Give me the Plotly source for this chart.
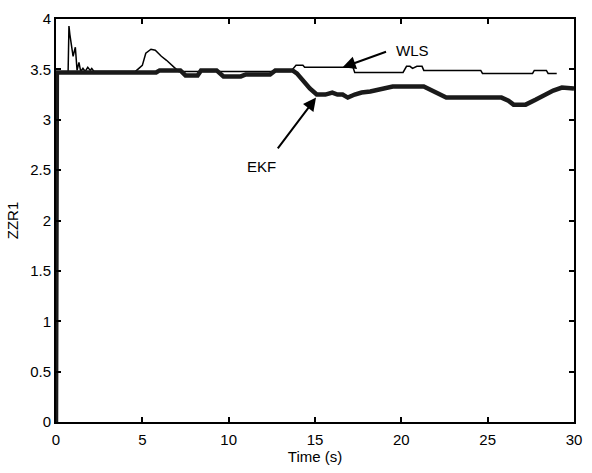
import plotly.graph_objects as go

# EKF estimate (thick line)
ekf_t = [0, 0.05, 0.5, 5.8, 6.0, 7.2, 7.5, 8.2, 8.4, 9.3, 9.7, 10.7, 11.0, 12.4, 12.7, 13.7,
         13.95, 14.3, 14.7, 15.1, 15.6, 16.0, 16.3, 16.6, 16.9, 17.3, 17.7, 18.2, 19.0, 19.5,
         21.3, 21.8, 22.6, 25.8, 26.2, 26.5, 27.2, 27.8, 28.3, 28.8, 29.3, 30]
ekf_v = [0, 3.47, 3.47, 3.47, 3.49, 3.49, 3.44, 3.44, 3.49, 3.49, 3.43, 3.43, 3.45, 3.45, 3.49, 3.49,
         3.46, 3.39, 3.31, 3.25, 3.25, 3.27, 3.25, 3.25, 3.22, 3.25, 3.27, 3.28, 3.31, 3.33,
         3.33, 3.29, 3.22, 3.22, 3.19, 3.15, 3.15, 3.20, 3.25, 3.29, 3.32, 3.31]

# WLS estimate (thin line)
wls_t = [0, 0.05, 0.7, 0.75, 0.8, 0.99, 1.12, 1.22, 1.33, 1.43, 1.56, 1.69, 1.84, 1.98, 2.07, 2.2,
         4.6, 5.0, 5.2, 5.5, 5.75, 6.1, 6.4, 6.7, 6.9, 7.1, 13.6, 13.9, 14.3, 14.4, 17.2, 17.3,
         20.1, 20.3, 20.5, 20.65, 20.9, 21.2, 21.3, 24.6, 24.7, 27.6, 27.7, 28.4, 28.5, 29.0]
wls_v = [0, 3.47, 3.47, 3.93, 3.85, 3.63, 3.72, 3.49, 3.57, 3.48, 3.51, 3.48, 3.52, 3.49, 3.51, 3.48,
         3.48, 3.54, 3.66, 3.70, 3.69, 3.63, 3.59, 3.54, 3.51, 3.48, 3.48, 3.54, 3.54, 3.52, 3.52, 3.47,
         3.47, 3.53, 3.53, 3.51, 3.53, 3.53, 3.49, 3.49, 3.46, 3.46, 3.49, 3.49, 3.46, 3.46]

x_ticks = [0, 5, 10, 15, 20, 25, 30]
y_ticks = [0, 0.5, 1, 1.5, 2, 2.5, 3, 3.5, 4]
y_tick_text = ["0", "0.5", "1", "1.5", "2", "2.5", "3", "3.5", "4"]

# annotation anchors: (label x, label y, arrow tail x, tail y, head x, head y)
wls_note = (20.65, 3.69, 19.2, 3.68, 16.6, 3.52)
ekf_note = (11.9, 2.54, 12.78, 2.70, 15.06, 3.22)

FONT = "Liberation Sans, Arial, sans-serif"

fig = go.Figure()
fig.add_trace(go.Scatter(x=wls_t, y=wls_v, mode="lines", name="WLS",
                         line=dict(color="black", width=1.5)))
fig.add_trace(go.Scatter(x=ekf_t, y=ekf_v, mode="lines", name="EKF",
                         line=dict(color="#1a1a1a", width=4.5)))

for lx, ly, tx, ty, hx, hy, txt in [(*wls_note, "WLS"), (*ekf_note, "EKF")]:
    fig.add_annotation(x=hx, y=hy, ax=tx, ay=ty, xref="x", yref="y", axref="x", ayref="y",
                       text="", showarrow=True, arrowhead=2, arrowsize=1.3, arrowwidth=2,
                       arrowcolor="black", standoff=0, startstandoff=0)
    fig.add_annotation(x=lx, y=ly, xref="x", yref="y", text=txt, showarrow=False,
                       font=dict(family=FONT, size=15, color="black"))

axis_common = dict(showgrid=False, zeroline=False, showline=True, linecolor="black", linewidth=2,
                   mirror="ticks", ticks="inside", ticklen=5, tickwidth=1.5, tickcolor="black",
                   tickfont=dict(family=FONT, size=15, color="black"))

fig.update_xaxes(range=[0, 30], tickvals=x_ticks, ticklabelstandoff=3, **axis_common,
                 title=dict(text="Time (s)", font=dict(family=FONT, size=15, color="black"), standoff=4))
fig.update_yaxes(range=[0, 4], tickvals=y_ticks, ticktext=y_tick_text, **axis_common,
                 title=dict(text="ZZR1", font=dict(family=FONT, size=15, color="black"), standoff=8))

fig.update_layout(width=592, height=473, margin=dict(l=56, r=10, t=15, b=48),
                  plot_bgcolor="white", paper_bgcolor="white", showlegend=False)

fig.write_html("out.html")
